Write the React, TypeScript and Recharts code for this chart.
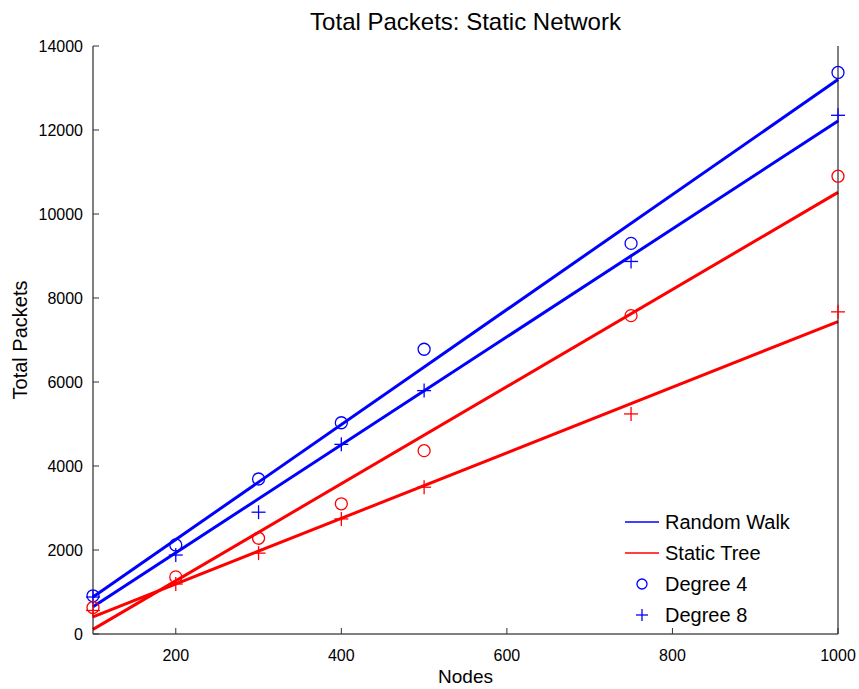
import React from "react";
import {
  ComposedChart,
  Line,
  Scatter,
  XAxis,
  YAxis,
  Label,
} from "recharts";

// node counts used in the experiments
const NODES = [100, 200, 300, 400, 500, 750, 1000];

// measured totals
const RW_DEG4 = [910, 2120, 3690, 5030, 6780, 9300, 13370];
const RW_DEG8 = [880, 1880, 2900, 4515, 5795, 8870, 12350];
const ST_DEG4 = [630, 1360, 2280, 3100, 4365, 7580, 10900];
const ST_DEG8 = [560, 1190, 1925, 2740, 3495, 5240, 7670];

// linear fits, end points at 100 and 1000 nodes
const FIT_X = [100, 1000];
const RW_DEG4_FIT = [880, 13200];
const RW_DEG8_FIT = [650, 12215];
const ST_DEG4_FIT = [110, 10515];
const ST_DEG8_FIT = [410, 7440];

const X_TICKS = [200, 400, 600, 800, 1000];
const Y_TICKS = [0, 2000, 4000, 6000, 8000, 10000, 12000, 14000];

const BLUE = "#0000ff";
const RED = "#ff0000";
const FONT = '"Liberation Sans", Arial, Helvetica, sans-serif';

const toPoints = (xs: number[], ys: number[]) =>
  xs.map((x, i) => ({ x, y: ys[i] }));

const TICK_LEN = 6;

function BottomTick(props: any) {
  const { x, y, payload } = props;
  return (
    <g>
      <line x1={x} y1={y} x2={x} y2={y - TICK_LEN} stroke="#333" strokeWidth={1} />
      <text x={x} y={y + 27} textAnchor="middle" fontSize={16} fontFamily={FONT} fill="#000">
        {payload.value}
      </text>
    </g>
  );
}

function TopTick(props: any) {
  const { x, y } = props;
  return <line x1={x} y1={y} x2={x} y2={y + TICK_LEN} stroke="#333" strokeWidth={1} />;
}

function LeftTick(props: any) {
  const { x, y, payload } = props;
  return (
    <g>
      <line x1={x} y1={y} x2={x + TICK_LEN} y2={y} stroke="#333" strokeWidth={1} />
      <text x={x - 10} y={y} dy="0.36em" textAnchor="end" fontSize={16} fontFamily={FONT} fill="#000">
        {payload.value}
      </text>
    </g>
  );
}

function RightTick(props: any) {
  const { x, y } = props;
  return <line x1={x} y1={y} x2={x - TICK_LEN} y2={y} stroke="#333" strokeWidth={1} />;
}

function CircleMark(color: string) {
  return (props: any) => {
    const { cx, cy } = props;
    return <circle cx={cx} cy={cy} r={6} fill="none" stroke={color} strokeWidth={1.3} />;
  };
}

function PlusMark(color: string) {
  return (props: any) => {
    const { cx, cy } = props;
    return (
      <g stroke={color} strokeWidth={1.3}>
        <line x1={cx - 7} y1={cy} x2={cx + 7} y2={cy} />
        <line x1={cx} y1={cy - 7} x2={cx} y2={cy + 7} />
      </g>
    );
  };
}

function LegendBox() {
  const rows = [
    { label: "Random Walk", kind: "line", color: BLUE },
    { label: "Static Tree", kind: "line", color: RED },
    { label: "Degree 4", kind: "circle", color: BLUE },
    { label: "Degree 8", kind: "plus", color: BLUE },
  ];
  return (
    <div style={{ position: "absolute", left: 620, top: 507, fontFamily: FONT, fontSize: 20 }}>
      {rows.map((r) => (
        <div key={r.label} style={{ display: "flex", alignItems: "center", height: 31 }}>
          <svg width={45} height={31} style={{ display: "block" }}>
            {r.kind === "line" && (
              <line x1={5} y1={15} x2={39} y2={15} stroke={r.color} strokeWidth={1.5} />
            )}
            {r.kind === "circle" && (
              <circle cx={22} cy={15} r={5} fill="none" stroke={r.color} strokeWidth={1.3} />
            )}
            {r.kind === "plus" && (
              <g stroke={r.color} strokeWidth={1.3}>
                <line x1={16} y1={15} x2={28} y2={15} />
                <line x1={22} y1={9} x2={22} y2={21} />
              </g>
            )}
          </svg>
          <span style={{ color: "#000" }}>{r.label}</span>
        </div>
      ))}
    </div>
  );
}

export default function App() {
  return (
    <div style={{ position: "absolute", left: 0, top: 0, width: 859, height: 689, background: "#fff" }}>
      <div
        style={{
          position: "absolute",
          left: 93,
          width: 745,
          top: 8,
          textAlign: "center",
          fontFamily: FONT,
          fontSize: 24,
          color: "#000",
        }}
      >
        Total Packets: Static Network
      </div>
      <ComposedChart
        width={859}
        height={689}
        margin={{ top: 46, right: 0, bottom: 0, left: 0 }}
      >
        <XAxis
          xAxisId="bottom"
          dataKey="x"
          type="number"
          domain={[100, 1000]}
          ticks={X_TICKS}
          interval={0}
          height={55}
          tickSize={0}
          tickMargin={0}
          tick={<BottomTick />}
          axisLine={{ stroke: "#000", strokeWidth: 1 }}
          tickLine={false}
        >
          <Label value="Nodes" position="insideBottom" offset={6} fontSize={19} fontFamily={FONT} fill="#000" />
        </XAxis>
        <XAxis
          xAxisId="top"
          orientation="top"
          dataKey="x"
          type="number"
          domain={[100, 1000]}
          ticks={X_TICKS}
          interval={0}
          height={0}
          tickSize={0}
          tickMargin={0}
          tick={<TopTick />}
          axisLine={{ stroke: "#000", strokeWidth: 1 }}
          tickLine={false}
        />
        <YAxis
          yAxisId="left"
          type="number"
          domain={[0, 14000]}
          ticks={Y_TICKS}
          interval={0}
          width={93}
          tickSize={0}
          tickMargin={0}
          tick={<LeftTick />}
          axisLine={{ stroke: "#000", strokeWidth: 1 }}
          tickLine={false}
        >
          <Label
            value="Total Packets"
            angle={-90}
            position="insideLeft"
            offset={20}
            style={{ textAnchor: "middle" }}
            fontSize={20}
            fontFamily={FONT}
            fill="#000"
          />
        </YAxis>
        <YAxis
          yAxisId="right"
          orientation="right"
          type="number"
          domain={[0, 14000]}
          ticks={Y_TICKS}
          interval={0}
          width={21}
          tickSize={0}
          tickMargin={0}
          tick={<RightTick />}
          axisLine={{ stroke: "#000", strokeWidth: 1 }}
          tickLine={false}
        />

        <Line
          xAxisId="bottom"
          yAxisId="left"
          data={toPoints(FIT_X, RW_DEG4_FIT)}
          dataKey="y"
          type="linear"
          stroke={BLUE}
          strokeWidth={3}
          dot={false}
          activeDot={false}
          isAnimationActive={false}
        />
        <Line
          xAxisId="bottom"
          yAxisId="left"
          data={toPoints(FIT_X, RW_DEG8_FIT)}
          dataKey="y"
          type="linear"
          stroke={BLUE}
          strokeWidth={3}
          dot={false}
          activeDot={false}
          isAnimationActive={false}
        />
        <Line
          xAxisId="bottom"
          yAxisId="left"
          data={toPoints(FIT_X, ST_DEG4_FIT)}
          dataKey="y"
          type="linear"
          stroke={RED}
          strokeWidth={3}
          dot={false}
          activeDot={false}
          isAnimationActive={false}
        />
        <Line
          xAxisId="bottom"
          yAxisId="left"
          data={toPoints(FIT_X, ST_DEG8_FIT)}
          dataKey="y"
          type="linear"
          stroke={RED}
          strokeWidth={3}
          dot={false}
          activeDot={false}
          isAnimationActive={false}
        />

        <Scatter
          xAxisId="bottom"
          yAxisId="left"
          data={toPoints(NODES, RW_DEG4)}
          dataKey="y"
          shape={CircleMark(BLUE)}
          isAnimationActive={false}
        />
        <Scatter
          xAxisId="bottom"
          yAxisId="left"
          data={toPoints(NODES, RW_DEG8)}
          dataKey="y"
          shape={PlusMark(BLUE)}
          isAnimationActive={false}
        />
        <Scatter
          xAxisId="bottom"
          yAxisId="left"
          data={toPoints(NODES, ST_DEG4)}
          dataKey="y"
          shape={CircleMark(RED)}
          isAnimationActive={false}
        />
        <Scatter
          xAxisId="bottom"
          yAxisId="left"
          data={toPoints(NODES, ST_DEG8)}
          dataKey="y"
          shape={PlusMark(RED)}
          isAnimationActive={false}
        />
      </ComposedChart>
      <LegendBox />
    </div>
  );
}
